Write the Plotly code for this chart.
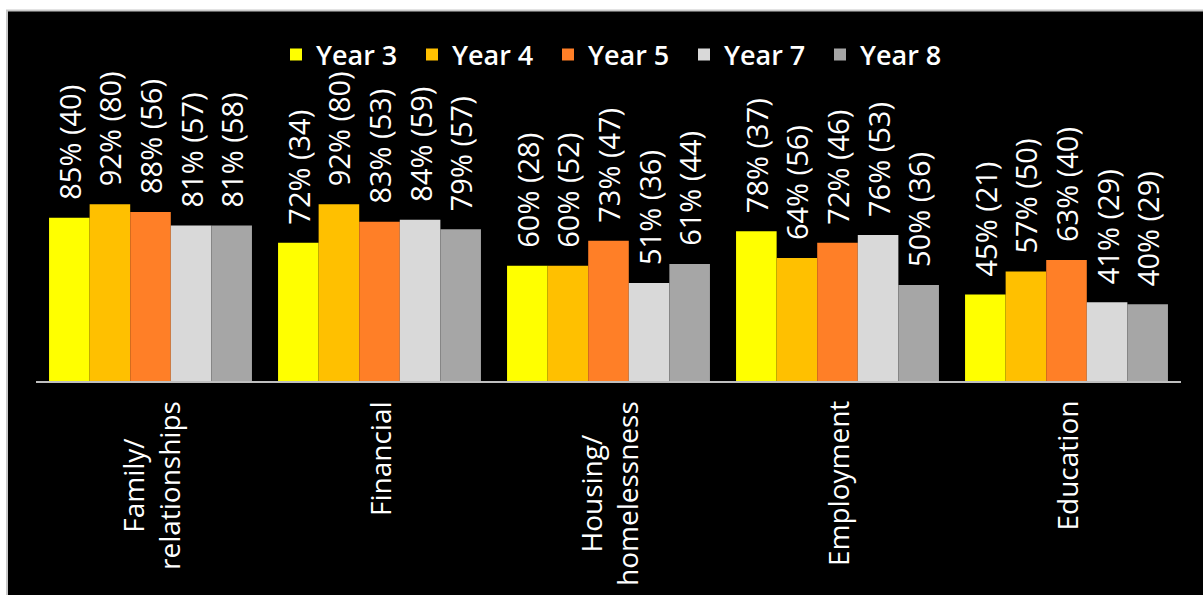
import plotly.graph_objects as go

categories = ["Family/<br>relationships", "Financial", "Housing/<br>homelessness", "Employment", "Education"]
cat_keys = ["Family/relationships", "Financial", "Housing/homelessness", "Employment", "Education"]
series_names = ["Year 3", "Year 4", "Year 5", "Year 7", "Year 8"]

year3_pct = [85, 72, 60, 78, 45]
year3_n = [40, 34, 28, 37, 21]
year4_pct = [92, 92, 60, 64, 57]
year4_n = [80, 80, 52, 56, 50]
year5_pct = [88, 83, 73, 72, 63]
year5_n = [56, 53, 47, 46, 40]
year7_pct = [81, 84, 51, 76, 41]
year7_n = [57, 59, 36, 53, 29]
year8_pct = [81, 79, 61, 50, 40]
year8_n = [58, 57, 44, 36, 29]

colors = ["#FFFF00", "#FFC000", "#FF7F27", "#D9D9D9", "#A6A6A6"]

pcts = [year3_pct, year4_pct, year5_pct, year7_pct, year8_pct]
ns = [year3_n, year4_n, year5_n, year7_n, year8_n]

FONT = "Open Sans"
NB = "\u00a0"

fig = go.Figure()
for name, p, n, c in zip(series_names, pcts, ns, colors):
    fig.add_trace(go.Bar(
        name=name,
        x=cat_keys,
        y=p,
        marker=dict(color=c, line=dict(width=0)),
        text=[f"{NB}{NB}{v}% ({k})" for v, k in zip(p, n)],
        textposition="outside",
        textangle=-90,
        cliponaxis=False,
        constraintext="none",
        textfont=dict(family=FONT, size=29, color="white"),
        hoverinfo="skip",
    ))

# category labels as rotated, centred text blocks under the axis
for key, lab in zip(cat_keys, categories):
    fig.add_annotation(
        x=key, xref="x", y=0, yref="paper",
        text=lab, showarrow=False, textangle=-90,
        xanchor="center", yanchor="top", align="center",
        yshift=-18,
        font=dict(family=FONT, size=28, color="white"),
    )

# black panel with light grey frame
fig.add_shape(
    type="rect", xref="paper", yref="paper",
    x0=(7 - 36) / 1145, x1=(1215 - 36) / 1145,
    y0=(381 - 610) / 321, y1=(381 - 10.5) / 321,
    fillcolor="black", line=dict(color="#C8C8C8", width=2), layer="below",
)

fig.update_layout(
    width=1203, height=595,
    margin=dict(l=36, r=22, t=60, b=214),
    paper_bgcolor="white",
    plot_bgcolor="rgba(0,0,0,0)",
    barmode="group",
    bargap=0.114,
    bargroupgap=0,
    showlegend=True,
    legend=dict(
        orientation="h",
        x=(276 - 36) / 1145, xanchor="left",
        y=(381 - 55) / 321, yanchor="middle",
        font=dict(family=FONT, size=27, color="white", weight=600),
        bgcolor="rgba(0,0,0,0)",
        entrywidth=91, entrywidthmode="pixels",
        traceorder="normal",
    ),
    xaxis=dict(
        showticklabels=False, showgrid=False, zeroline=False,
        showline=True, linecolor="#BFBFBF", linewidth=2,
        ticks="", range=[-0.5, 4.5], fixedrange=True,
    ),
    yaxis=dict(
        visible=False, range=[0, 321 / 1.92], showgrid=False, zeroline=False,
        fixedrange=True,
    ),
)

fig.write_html("out.html", config={"displayModeBar": False},
               post_script="document.body.style.margin='0';")
